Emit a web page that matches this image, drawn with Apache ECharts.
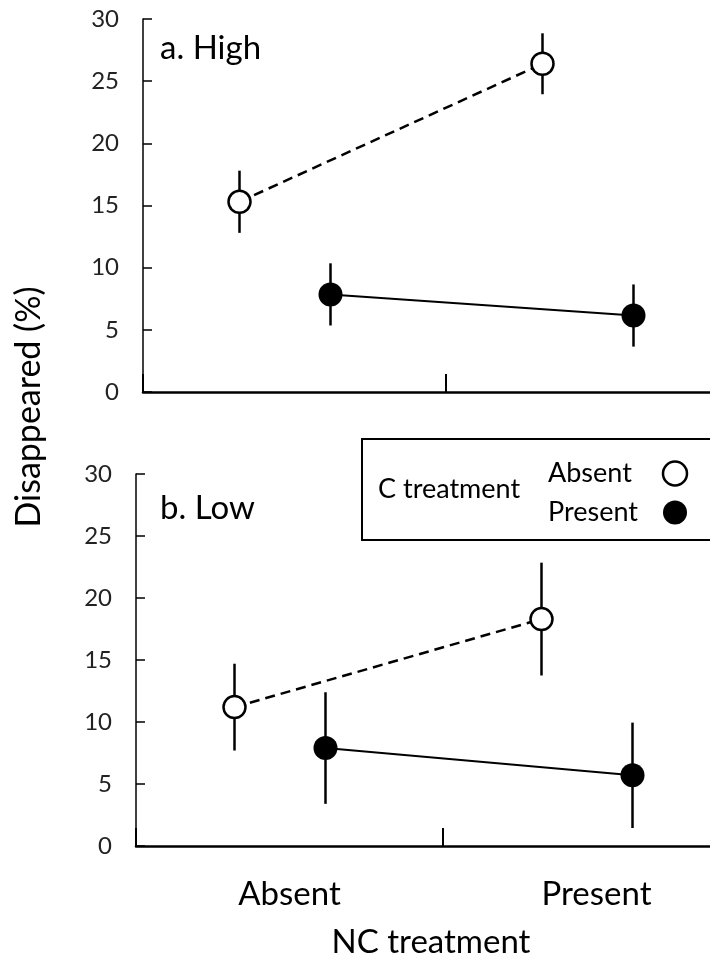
<!DOCTYPE html>
<html><head><meta charset="utf-8">
<script src="https://cdn.jsdelivr.net/npm/echarts@6/dist/echarts.min.js"></script>
<style>html,body{margin:0;padding:0;background:#fff}#c{width:710px;height:967px}</style>
</head><body><div id="c"></div>
<script>
// ---- data ----
const ncCategories = ['Absent', 'Present'];
const cGroups = ['Absent', 'Present'];
const yTickMax = 30, yTickStep = 5;
const highAbsentMean = [15.3, 26.4];
const highAbsentSE = [2.5, 2.45];
const highPresentMean = [7.85, 6.15];
const highPresentSE = [2.5, 2.5];
const lowAbsentMean = [11.2, 18.3];
const lowAbsentSE = [3.5, 4.55];
const lowPresentMean = [7.9, 5.7];
const lowPresentSE = [4.5, 4.25];

const FONT = 'Lato';

function makeSeries(name, gridIdx, means, ses, filled, dashed, offset) {
  const data = means.map((m, i) => [i, m, ses[i]]);
  return {
    type: 'custom', name: name, xAxisIndex: gridIdx, yAxisIndex: gridIdx,
    data: data, silent: true,
    itemStyle: { color: filled ? '#000' : '#fff', borderColor: '#000' },
    renderItem: function (params, api) {
      const x = api.value(0), m = api.value(1), s = api.value(2);
      const p = api.coord([x, m]); p[0] += offset;
      const t = api.coord([x, m + s]);
      const b = api.coord([x, m - s]);
      const children = [];
      if (params.dataIndex < data.length - 1) {
        const nx = data[params.dataIndex + 1];
        const q = api.coord([nx[0], nx[1]]); q[0] += offset;
        children.push({ type: 'line', shape: { x1: p[0], y1: p[1], x2: q[0], y2: q[1] },
          style: { stroke: '#000', lineWidth: dashed ? 2.5 : 2, lineDash: dashed ? [10, 6] : null } });
      }
      children.push({ type: 'line', shape: { x1: p[0], y1: t[1], x2: p[0], y2: b[1] },
        style: { stroke: '#000', lineWidth: 2.5 } });
      children.push({ type: 'circle', shape: { cx: p[0], cy: p[1], r: filled ? 12 : 11 },
        style: { fill: filled ? '#000' : '#fff', stroke: '#000', lineWidth: filled ? 0 : 2.5 } });
      return { type: 'group', children: children };
    }
  };
}

function yAxis(gridIdx) {
  return {
    type: 'value', gridIndex: gridIdx, min: 0, max: yTickMax, interval: yTickStep,
    axisLine: { show: true, lineStyle: { color: '#000', width: 1.5 } },
    axisTick: { show: true, inside: true, length: 9, lineStyle: { color: '#000', width: 1.5 } },
    axisLabel: { fontFamily: FONT, fontSize: 24, color: '#222', margin: 24 },
    splitLine: { show: false }
  };
}
function xAxis(gridIdx, showLabels) {
  return {
    type: 'category', gridIndex: gridIdx, data: ncCategories, boundaryGap: true,
    axisLine: { show: true, lineStyle: { color: '#000', width: 2.5 } },
    axisTick: { show: true, inside: true, length: 18, lineStyle: { color: '#000', width: 2 } },
    axisLabel: { show: showLabels, fontFamily: FONT, fontSize: 33, color: '#000', margin: 32 },
    splitLine: { show: false }
  };
}

const OPEN_OFF = -55, FILLED_OFF = 36;

const option = {
  backgroundColor: '#fff',
  animation: false,
  grid: [
    { left: 143, top: 19, width: 606, height: 373, outerBoundsMode: 'none', containLabel: false },
    { left: 136, top: 474, width: 614, height: 372, outerBoundsMode: 'none', containLabel: false }
  ],
  xAxis: [xAxis(0, false), xAxis(1, true)],
  yAxis: [yAxis(0), yAxis(1)],
  legend: {
    left: 362, top: 439, orient: 'vertical', align: 'right',
    selectedMode: false,
    data: [
      { name: cGroups[0], icon: 'circle', itemStyle: { color: '#fff', borderColor: '#000', borderWidth: 2.5 } },
      { name: cGroups[1], icon: 'circle', itemStyle: { color: '#000', borderColor: '#000', borderWidth: 0 } }
    ],
    itemWidth: 24, itemHeight: 24, itemGap: 12,
    padding: [21, 60, 14, 186],
    borderColor: '#000', borderWidth: 2,
    formatter: function (name) { return '{t|' + name + '}'; },
    textStyle: { fontFamily: FONT, fontSize: 27, color: '#000',
      rich: { t: { width: 110, lineHeight: 24, align: 'left', fontFamily: FONT, fontSize: 27, color: '#000' } } }
  },
  graphic: [
    { type: 'text', x: 160, y: 48, style: { text: 'a. High', fontFamily: FONT, fontSize: 33, fill: '#000', textVerticalAlign: 'middle' } },
    { type: 'text', x: 160, y: 508, style: { text: 'b. Low', fontFamily: FONT, fontSize: 33, fill: '#000', textVerticalAlign: 'middle' } },
    { type: 'text', x: 378, y: 489, style: { text: 'C treatment', fontFamily: FONT, fontSize: 27, fill: '#000', textVerticalAlign: 'middle' } },
    { type: 'text', x: 431, y: 942, style: { text: 'NC treatment', fontFamily: FONT, fontSize: 33, fill: '#000', textAlign: 'center', textVerticalAlign: 'middle' } },
    { type: 'text', x: 29, y: 407, rotation: Math.PI / 2, style: { text: 'Disappeared (%)', fontFamily: FONT, fontSize: 34, fill: '#000', textAlign: 'center', textVerticalAlign: 'middle' } }
  ],
  series: [
    makeSeries(cGroups[0], 0, highAbsentMean, highAbsentSE, false, true, OPEN_OFF),
    makeSeries(cGroups[1], 0, highPresentMean, highPresentSE, true, false, FILLED_OFF),
    makeSeries(cGroups[0], 1, lowAbsentMean, lowAbsentSE, false, true, OPEN_OFF),
    makeSeries(cGroups[1], 1, lowPresentMean, lowPresentSE, true, false, FILLED_OFF)
  ]
};
const chart = echarts.init(document.getElementById('c'), null, { renderer: 'canvas' });
chart.setOption(option);
</script>
</body></html>
